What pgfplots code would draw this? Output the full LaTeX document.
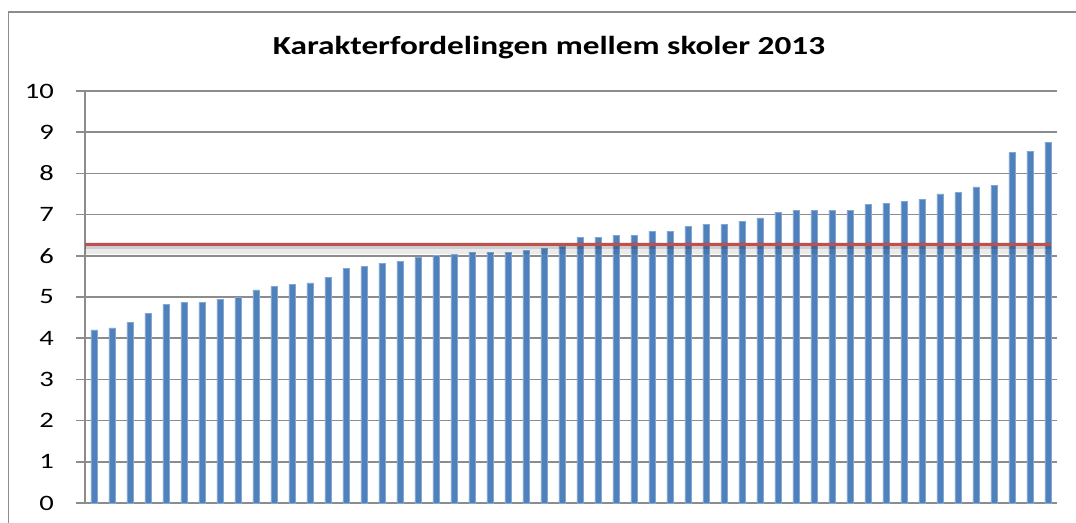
\documentclass[border=0pt]{standalone}
\usepackage{pgfplots}
\pgfplotsset{compat=1.18}
\usepackage{fontspec}
\setmainfont{Carlito}
\definecolor{barblue}{HTML}{4F81BD}
\definecolor{linered}{HTML}{C0504D}
\definecolor{gridgray}{HTML}{8C8C8C}
\begin{document}
\begin{tikzpicture}
\useasboundingbox (0,0) rectangle (538pt,261.5pt);
\begin{axis}[
  at={(42.65pt,10pt)}, anchor=south west,
  scale only axis,
  width=485.7pt, height=206pt,
  xmin=-0.5, xmax=53.47,
  ymin=0, ymax=10,
  ytick={0,1,...,10},
  xtick=\empty,
  axis line style={gridgray, line width=0.8pt},
  axis x line*=bottom,
  axis y line*=left,
  ymajorgrids,
  grid style={gridgray, line width=0.8pt},
  tick align=outside,
  major tick length=4.5pt,
  ytick style={gridgray, line width=0.8pt},
  /pgf/number format/assume math mode=true,
  yticklabel style={font=\fontsize{11}{13}\selectfont, anchor=east, inner sep=0pt, xshift=-11pt},
  yticklabel={\scalebox{1.3}[1]{\pgfmathprintnumber{\tick}}},
  clip=false,
]
\addplot [ybar, bar width=0.38, fill=barblue, draw=barblue!70!white, line width=0.3pt] coordinates {
(0,4.20) (1,4.25) (2,4.38) (3,4.60) (4,4.82) (5,4.86) (6,4.86) (7,4.95) (8,5.00) (9,5.17)
(10,5.26) (11,5.30) (12,5.34) (13,5.48) (14,5.69) (15,5.74) (16,5.82) (17,5.87) (18,5.96) (19,6.00)
(20,6.04) (21,6.09) (22,6.09) (23,6.09) (24,6.13) (25,6.18) (26,6.24) (27,6.45) (28,6.45) (29,6.50)
(30,6.50) (31,6.59) (32,6.59) (33,6.71) (34,6.76) (35,6.76) (36,6.84) (37,6.92) (38,7.06) (39,7.10)
(40,7.10) (41,7.10) (42,7.10) (43,7.24) (44,7.28) (45,7.32) (46,7.37) (47,7.50) (48,7.53) (49,7.67)
(50,7.71) (51,8.50) (52,8.54) (53,8.76)
};
\addplot [black, opacity=0.08, line width=6pt, forget plot] coordinates {(-0.5,6.19) (53.15,6.19)};
\addplot [black, opacity=0.12, line width=3pt, forget plot] coordinates {(-0.5,6.23) (53.15,6.23)};
\addplot [linered, line width=1.5pt] coordinates {(-0.5,6.28) (53.15,6.28)};
\end{axis}
\draw [gridgray, line width=0.75pt] (4.15pt,-2pt) -- (4.15pt,255.5pt) -- (545pt,255.5pt);
\node [font=\bfseries\fontsize{13}{15}\selectfont] at (274.5pt,237.5pt) {\scalebox{1.28}[1]{Karakterfordelingen mellem skoler 2013}};
\end{tikzpicture}
\end{document}
